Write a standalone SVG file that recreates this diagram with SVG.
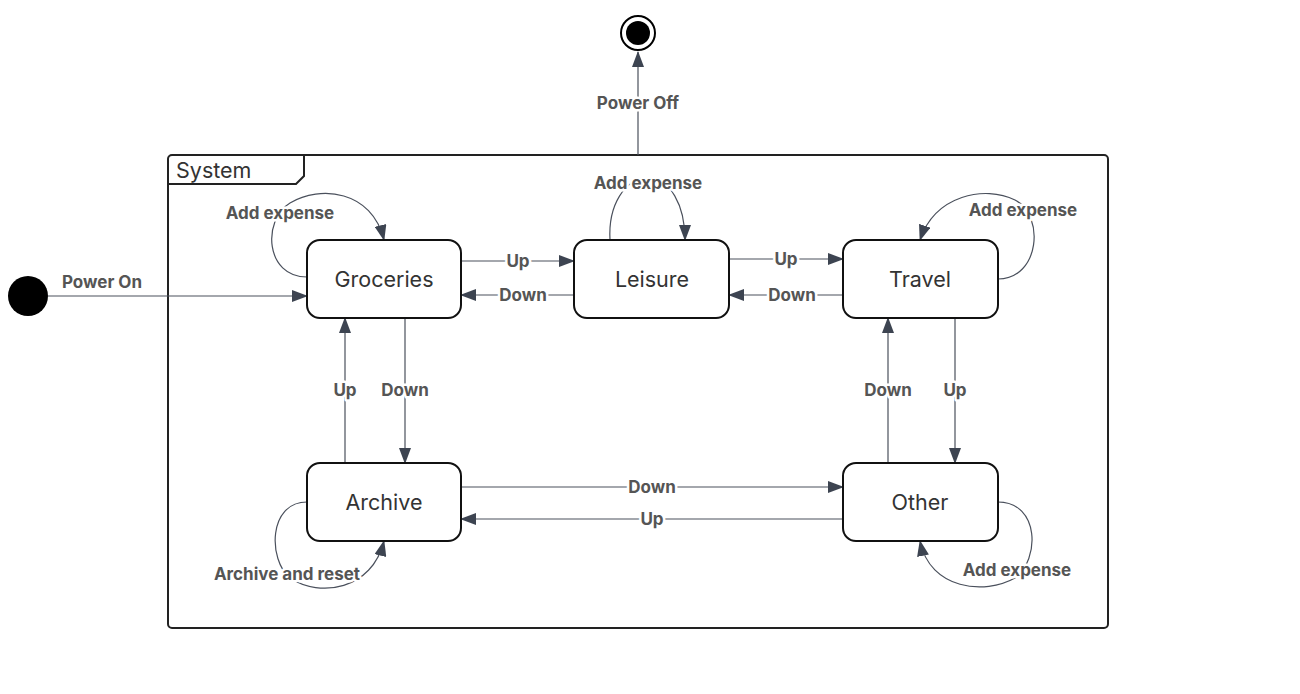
<svg xmlns="http://www.w3.org/2000/svg" width="1300" height="694" viewBox="0 0 1300 694">
<defs>
<marker id="arr" markerUnits="userSpaceOnUse" markerWidth="16" markerHeight="12" viewBox="0 0 16 12" refX="15" refY="6" orient="auto">
<path d="M0,0 L16,6 L0,12 Z" fill="#3d4451"/>
</marker>
<style>
.node rect{fill:#fff;stroke:#111;stroke-width:2}
.node text{font-family:Inter,"Liberation Sans",sans-serif;font-size:21.5px;fill:#333;text-anchor:middle;dominant-baseline:central}
.conn path,.conn line{fill:none;stroke:#4a505c;stroke-width:1.2}
.lbl{font-family:Inter,"Liberation Sans",sans-serif;font-size:17px;font-weight:bold;fill:#555;text-anchor:middle;dominant-baseline:central;stroke:#fff;stroke-width:5;paint-order:stroke;stroke-linejoin:round}
</style>
</defs>
<rect width="1300" height="694" fill="#fff"/>
<g id="system">
<rect x="168" y="155" width="940" height="473" rx="4" fill="none" stroke="#222" stroke-width="2"/>
<path d="M168,184 L296,184 L304,176 L304,155" fill="none" stroke="#222" stroke-width="2"/>
<text x="176" y="170" font-family="Inter,'Liberation Sans',sans-serif" font-size="21.5" fill="#333" dominant-baseline="central">System</text>
</g>
<g id="initial"><circle cx="28" cy="296" r="20" fill="#000"/></g>
<g id="final"><circle cx="638" cy="33" r="17" fill="#fff" stroke="#000" stroke-width="2"/><circle cx="638" cy="33" r="12" fill="#000"/></g>
<g class="conn" id="connectors">
<line x1="48" y1="296" x2="307" y2="296" marker-end="url(#arr)"/>
<line x1="638" y1="155" x2="638" y2="52" marker-end="url(#arr)"/>
<line x1="461" y1="261" x2="574" y2="261" marker-end="url(#arr)"/>
<line x1="574" y1="295" x2="461" y2="295" marker-end="url(#arr)"/>
<line x1="729" y1="259" x2="843" y2="259" marker-end="url(#arr)"/>
<line x1="843" y1="295" x2="729" y2="295" marker-end="url(#arr)"/>
<line x1="405" y1="318" x2="405" y2="463" marker-end="url(#arr)"/>
<line x1="345" y1="463" x2="345" y2="318" marker-end="url(#arr)"/>
<line x1="955" y1="318" x2="955" y2="463" marker-end="url(#arr)"/>
<line x1="888" y1="463" x2="888" y2="318" marker-end="url(#arr)"/>
<line x1="461" y1="487" x2="843" y2="487" marker-end="url(#arr)"/>
<line x1="843" y1="519" x2="461" y2="519" marker-end="url(#arr)"/>
<path d="M307,277 C265,277 262,220 290,203 C320,185 372,190 384,240" marker-end="url(#arr)"/>
<path d="M610,240 C608,205 625,178 648,178 C670,178 685,205 685,240" marker-end="url(#arr)"/>
<path d="M998,279 C1040,279 1045,215 1015,200 C985,185 935,195 920,240" marker-end="url(#arr)"/>
<path d="M307,502 C268,502 268,560 290,578 C320,598 372,590 384,541" marker-end="url(#arr)"/>
<path d="M998,502 C1040,502 1040,560 1015,578 C985,595 930,590 920,541" marker-end="url(#arr)"/>
<text class="lbl" x="102" y="282">Power On</text>
<text class="lbl" x="638" y="103">Power Off</text>
<text class="lbl" x="518" y="261">Up</text>
<text class="lbl" x="523" y="295">Down</text>
<text class="lbl" x="786" y="259">Up</text>
<text class="lbl" x="792" y="295">Down</text>
<text class="lbl" x="405" y="390">Down</text>
<text class="lbl" x="345" y="390">Up</text>
<text class="lbl" x="955" y="390">Up</text>
<text class="lbl" x="888" y="390">Down</text>
<text class="lbl" x="652" y="487">Down</text>
<text class="lbl" x="652" y="519">Up</text>
<text class="lbl" x="280" y="213">Add expense</text>
<text class="lbl" x="648" y="183">Add expense</text>
<text class="lbl" x="1023" y="210">Add expense</text>
<text class="lbl" x="287" y="574">Archive and reset</text>
<text class="lbl" x="1017" y="570">Add expense</text>
</g>
<g class="node" id="groceries"><rect x="307" y="240" width="154" height="78" rx="13"/><text x="384" y="279">Groceries</text></g>
<g class="node" id="leisure"><rect x="574" y="240" width="155" height="78" rx="13"/><text x="652" y="279">Leisure</text></g>
<g class="node" id="travel"><rect x="843" y="240" width="155" height="78" rx="13"/><text x="920" y="279">Travel</text></g>
<g class="node" id="archive"><rect x="307" y="463" width="154" height="78" rx="13"/><text x="384" y="502">Archive</text></g>
<g class="node" id="other"><rect x="843" y="463" width="155" height="78" rx="13"/><text x="920" y="502">Other</text></g>
</svg>
